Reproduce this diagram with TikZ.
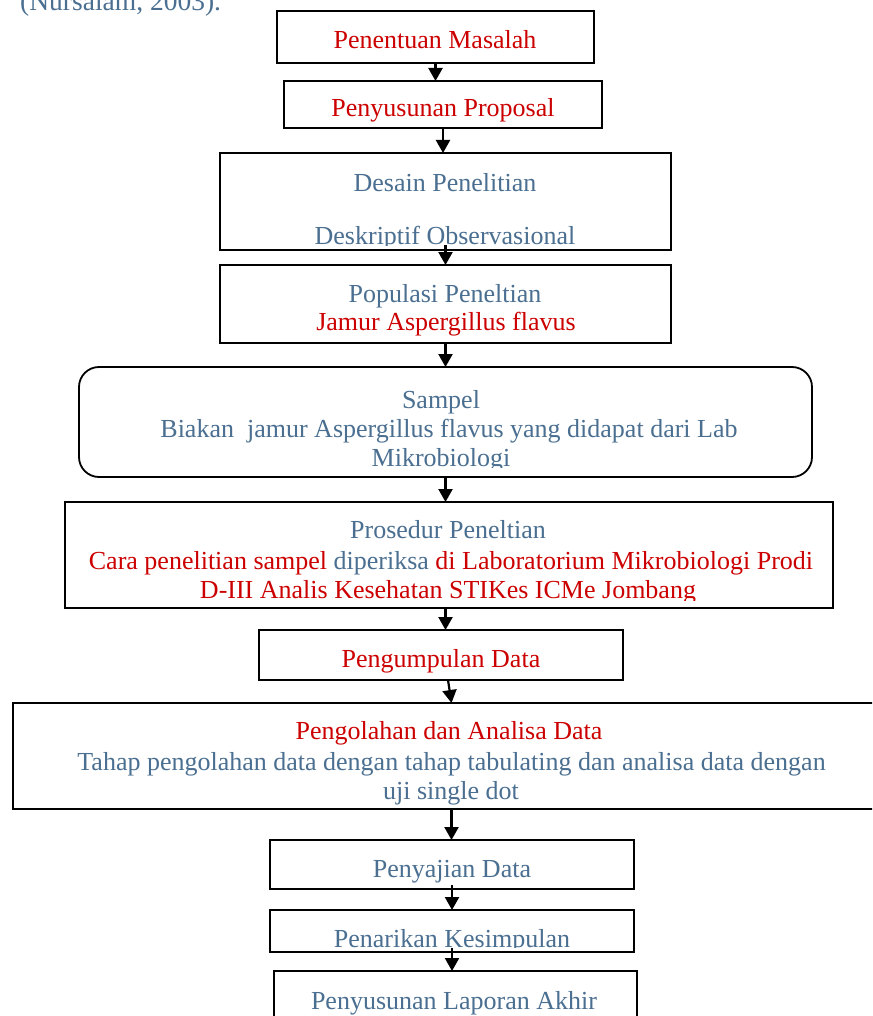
\documentclass[tikz,border=0pt]{standalone}
\usepackage{fontspec}
\setmainfont{Liberation Serif}
\usetikzlibrary{arrows.meta}
\definecolor{bluegrey}{RGB}{74,111,145}
\definecolor{redtxt}{RGB}{204,0,0}
\begin{document}
\begin{tikzpicture}[x=1pt,y=-1pt,
  box/.style={draw=black, line width=1.8pt, inner sep=0pt, outer sep=0pt},
  rbox/.style={box, rounded corners=20pt},
  bt/.style={anchor=base, inner sep=0pt, text=bluegrey, font=\fontsize{26}{30}\selectfont},
  rt/.style={bt, text=redtxt},
  arr/.style={line width=2.2pt, -{Triangle[width=14pt,length=13pt]}}]
\clip (0,0) rectangle (872,1016);
\fill[white] (0,0) rectangle (872,1016);

\node[bt, anchor=base west, font=\fontsize{27.5}{32}\selectfont] (cite) at (20,11) {(Nursalam, 2003).};

% boxes
\node[box, minimum width=317pt, minimum height=52pt] (n1) at (435.5,37) {};
\node[box, minimum width=318pt, minimum height=47pt] (n2) at (443,104.5) {};
\node[box, minimum width=451pt, minimum height=97pt] (n3) at (445.5,201.5) {};
\node[box, minimum width=451pt, minimum height=78pt] (n4) at (445.5,304) {};
\node[rbox, minimum width=733pt, minimum height=110pt] (n5) at (445.5,422) {};
\node[box, minimum width=768pt, minimum height=106pt] (n6) at (449,555) {};
\node[box, minimum width=364pt, minimum height=50pt] (n7) at (441,655) {};
\node[box, minimum width=877pt, minimum height=106pt] (n8) at (451.5,756) {};
\node[box, minimum width=364pt, minimum height=49pt] (n9) at (452,864.5) {};
\node[box, minimum width=364pt, minimum height=42pt] (n10) at (452,931) {};
\node[box, minimum width=363pt, minimum height=60pt] (n11) at (455.5,1001) {};

% texts
\node[rt] (t1) at (435,49) {Penentuan Masalah};
\node[rt] (t2) at (443,117) {Penyusunan Proposal};
\begin{scope}
\clip (n3.north west) rectangle ([yshift=5pt]n3.south east);
\node[bt] (t3a) at (445,192) {Desain Penelitian};
\node[bt] (t3b) at (445,244) {Deskriptif Observasional};
\end{scope}
\node[bt] (t4a) at (445,302) {Populasi Peneltian};
\node[rt] (t4b) at (446,330) {Jamur Aspergillus flavus};
\begin{scope}
\clip (n5.north west) rectangle ([yshift=10pt]n5.south east);
\node[bt] (t5a) at (441,408) {Sampel};
\node[bt] (t5b) at (449,437) {Biakan\ \ jamur Aspergillus flavus yang didapat dari Lab};
\node[bt] (t5c) at (441,466) {Mikrobiologi};
\end{scope}
\begin{scope}
\clip (n6.north west) rectangle ([yshift=8pt]n6.south east);
\node[bt] (t6a) at (448,538) {Prosedur Peneltian};
\node[bt] (t6b) at (451,569) {\textcolor{redtxt}{Cara penelitian sampel} diperiksa \textcolor{redtxt}{di Laboratorium Mikrobiologi Prodi}};
\node[rt] (t6c) at (448,598) {D-III Analis Kesehatan STIKes ICMe Jombang};
\end{scope}
\node[rt] (t7) at (441,667) {Pengumpulan Data};
\node[rt] (t8a) at (449,739) {Pengolahan dan Analisa Data};
\node[bt] (t8b) at (451.5,770) {Tahap pengolahan data dengan tahap tabulating dan analisa data dengan};
\node[bt] (t8c) at (451,799) {uji single dot};
\node[bt] (t9) at (452,877) {Penyajian Data};
\begin{scope}
\clip (n10.north west) rectangle ([yshift=5pt]n10.south east);
\node[bt] (t10) at (452,947) {Penarikan Kesimpulan};
\end{scope}
\node[bt] (t11) at (454,1009) {Penyusunan Laporan Akhir};

% connectors
\draw[arr] (n1.south) -- (n1.south |- n2.north);
\draw[arr] (n2.south) -- (n2.south |- n3.north);
\draw[arr] ([yshift=5pt]n3.south) -- (n4.north);
\draw[arr] (n4.south) -- (n5.north);
\draw[arr] (n5.south) -- (n5.south |- n6.north);
\draw[arr] (n6.south -| n5.south) -- (n5.south |- n7.north);
\draw[arr] ([xshift=7pt]n7.south) -- (n8.north);
\draw[arr] (n8.south) -- (n8.south |- n9.north);
\draw[arr] ([yshift=4pt]n9.south) -- (n10.north);
\draw[arr] ([yshift=4pt]n10.south) -- (n10.south |- n11.north);
\end{tikzpicture}
\end{document}
